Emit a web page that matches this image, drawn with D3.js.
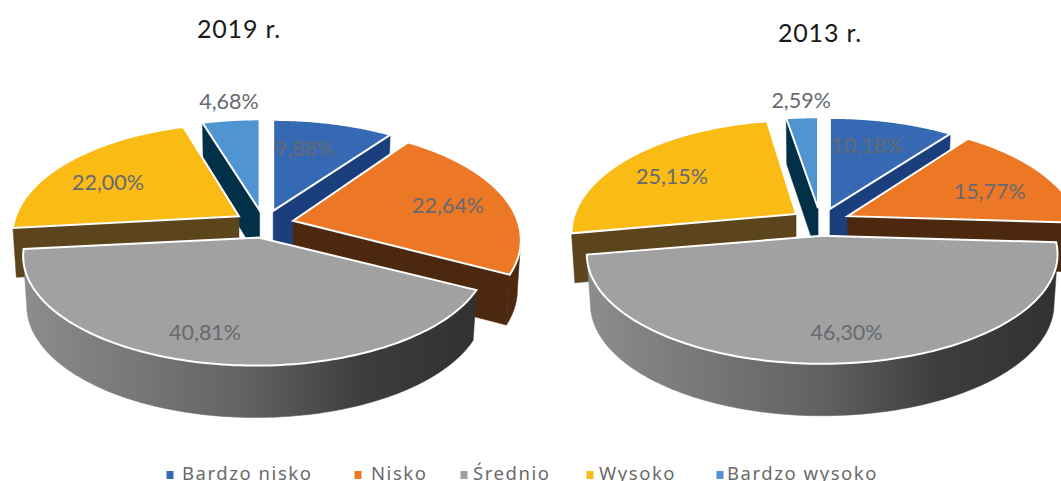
<!DOCTYPE html>
<html>
<head>
<meta charset="utf-8">
<title>Rozkład poziomów 2019 i 2013</title>
<script src="https://cdnjs.cloudflare.com/ajax/libs/d3/7.8.5/d3.min.js"></script>
<style>
  html, body { margin: 0; padding: 0; background: #fff; overflow: hidden; }
  svg { display: block; }
  text { font-family: Lato, sans-serif; }
</style>
</head>
<body>
<svg id="chart" width="1061" height="481"></svg>
<script>
// Category names and the share of each category per year (percent).
const categories = ["Bardzo nisko", "Nisko", "Średnio", "Wysoko", "Bardzo wysoko"];
const values2019 = [9.88, 22.64, 40.81, 22.00, 4.68];
const values2013 = [10.18, 15.77, 46.30, 25.15, 2.59];
const topColors  = ["#3569b3", "#ec7825", "#a1a1a1", "#fabb14", "#5094d1"];
const wallColors = ["#1a3f7c", "#4b280e", "url(#wallShade)", "#5c451c", "#023049"];

// Projection of the tilted disc: radius, vertical radius and perspective strength.
const RADIUS = 229, RADIUS_Y = 106.4, PERSPECTIVE = 0.169;
const EXPLODE_X = 30, EXPLODE_Y = 13.8;
const DEPTH = 49, FLOOR_SHRINK = 0.985;

// fit: per-slice horizontal scale, vertical scale and rim offset, correcting the
// simple projection where a pulled-out slice recedes or comes forward.
const charts = [
  { title: "2019 r.", titleX: 239, titleY: 38, cx: 264, cy: 224, values: values2019,
    fit: [[1, 1, 0], [0.98, 1.03, 0], [1, 1, -3], [0.975, 1.02, 0], [1, 1, 0]],
    nudges: [[-10, -3], [14, 0], [-23, 18], [-14, 2], [-11, -47]] },
  { title: "2013 r.", titleX: 820, titleY: 42, cx: 820.5, cy: 222, values: values2013,
    fit: [[1, 1, 0], [1, 1.03, 0], [1.013, 1, 0], [0.975, 1.03, 2], [1, 1, 0]],
    nudges: [[-5, -4], [13, 3], [15, 19], [-10, 0], [-6, -46]] }
];

const legendLayout = [
  { marker: 170, text: 182 },
  { marker: 358, text: 371 },
  { marker: 464, text: 473 },
  { marker: 590, text: 599 },
  { marker: 720, text: 727 }
];

const svg = d3.select("#chart");
const topColor = d3.scaleOrdinal(categories, topColors);
const wallColor = d3.scaleOrdinal(categories, wallColors);
const pie = d3.pie().sort(null).value(d => d.value);
const outline = d3.line();

// Outer rim of the grey slice goes from a light left side to a dark right side.
const shade = svg.append("defs").append("linearGradient").attr("id", "wallShade");
[[0, "#8e8c8c"], [0.25, "#777776"], [0.5, "#606160"], [0.75, "#3c3d3c"], [1, "#303130"]]
  .forEach(([o, c]) => shade.append("stop").attr("offset", o).attr("stop-color", c));

// Point on the disc at angle a (clockwise from twelve o'clock), f = fraction of the radius.
function project(a, f) {
  const x = f * Math.sin(a), y = f * Math.cos(a);
  const p = 1 / (1 + PERSPECTIVE * y);
  return { sx: RADIUS * x * p, sy: -RADIUS_Y * y * p, y };
}

function drawPie(chart) {
  const slices = pie(categories.map((name, i) => ({ name, value: chart.values[i], i })));
  const g = svg.append("g");

  // Paint far slices first so nearer ones overlap them.
  const ordered = slices.slice().sort((a, b) =>
    Math.cos((b.startAngle + b.endAngle) / 2) - Math.cos((a.startAngle + a.endAngle) / 2));

  ordered.forEach(s => {
    const mid = (s.startAngle + s.endAngle) / 2;
    const [scaleX, scaleY, rimShift] = chart.fit[s.data.i];
    const ox = chart.cx + EXPLODE_X * Math.sin(mid);
    const oy = chart.cy - EXPLODE_Y * Math.cos(mid);
    const top = (a, f) => {
      const q = project(a, f);
      return [ox + q.sx * scaleX + rimShift * f, oy + q.sy * scaleY, q.y];
    };
    const floor = ([x, y, wy]) => [
      ox + (x - ox) * FLOOR_SHRINK,
      y + DEPTH * (1 - 0.06 * wy)
    ];

    const steps = d3.range(0, 121).map(i =>
      top(s.startAngle + (s.endAngle - s.startAngle) * i / 120, 1));
    const apex = top(mid, 0);
    const fill = wallColor(s.data.name);

    // Visible part of the rim: only the stretch running leftward on screen faces the viewer.
    const rim = [];
    steps.forEach((pt, i) => { if (i > 0 && pt[0] < steps[i - 1][0]) rim.push(i); });
    if (rim.length) {
      const arc = steps.slice(rim[0] - 1, rim[rim.length - 1] + 1);
      const ring = arc.concat(arc.slice().reverse().map(floor)).map(d => d.slice(0, 2));
      g.append("path").attr("d", outline(ring) + "Z")
        .attr("fill", fill).attr("stroke", fill).attr("stroke-width", 0.5);
    }

    // Radial cut faces, drawn only when they turn toward the viewer.
    const first = steps[0], last = steps[steps.length - 1];
    [[apex, first], [last, apex]].forEach(([a, b]) => {
      if (b[0] < a[0] - 0.01) {
        const quad = [a, b, floor(b), floor(a)].map(d => d.slice(0, 2));
        g.append("path").attr("d", outline(quad) + "Z")
          .attr("fill", fill).attr("stroke", fill).attr("stroke-width", 0.5);
      }
    });

    // Light seam where a cut face meets the rim.
    if (rim.length && last[0] < apex[0] && s.endAngle < Math.PI) {
      const seam = [last, floor(last)].map(d => d.slice(0, 2));
      g.append("path").attr("d", outline(seam)).attr("stroke", "#fff")
        .attr("stroke-width", 1.5).attr("fill", "none");
    }

    // Top face.
    const face = [apex].concat(steps).map(d => d.slice(0, 2));
    g.append("path").attr("d", outline(face) + "Z")
      .attr("fill", topColor(s.data.name))
      .attr("stroke", "#fff").attr("stroke-width", 2).attr("stroke-linejoin", "miter");
  });

  // Value labels sit at two thirds of the radius, then shift per slice.
  slices.forEach(s => {
    const mid = (s.startAngle + s.endAngle) / 2;
    const q = project(mid, 0.65);
    const [dx, dy] = chart.nudges[s.index];
    g.append("text")
      .attr("x", chart.cx + EXPLODE_X * Math.sin(mid) + q.sx + dx)
      .attr("y", chart.cy - EXPLODE_Y * Math.cos(mid) + q.sy + dy)
      .attr("dy", "0.36em")
      .attr("text-anchor", "middle")
      .attr("font-size", 21.5)
      .attr("fill", "#666a70")
      .text(d3.format(".2f")(s.data.value).replace(".", ",") + "%");
  });

  svg.append("text")
    .attr("x", chart.titleX).attr("y", chart.titleY)
    .attr("text-anchor", "middle")
    .attr("font-size", 25).attr("letter-spacing", 0.8)
    .attr("fill", "#1a1a1a")
    .text(chart.title);
}

charts.forEach(drawPie);

// Legend along the bottom edge.
const legend = svg.append("g");
categories.forEach((name, i) => {
  legend.append("rect")
    .attr("x", legendLayout[i].marker - 3.5).attr("y", 471)
    .attr("width", 7).attr("height", 8)
    .attr("fill", topColor(name));
  legend.append("text")
    .attr("x", legendLayout[i].text).attr("y", 480)
    .attr("font-size", 18.5).attr("letter-spacing", 1.55)
    .attr("fill", "#6a6a6a")
    .style("font-family", "'Noto Sans', sans-serif")
    .text(name);
});
</script>
</body>
</html>
